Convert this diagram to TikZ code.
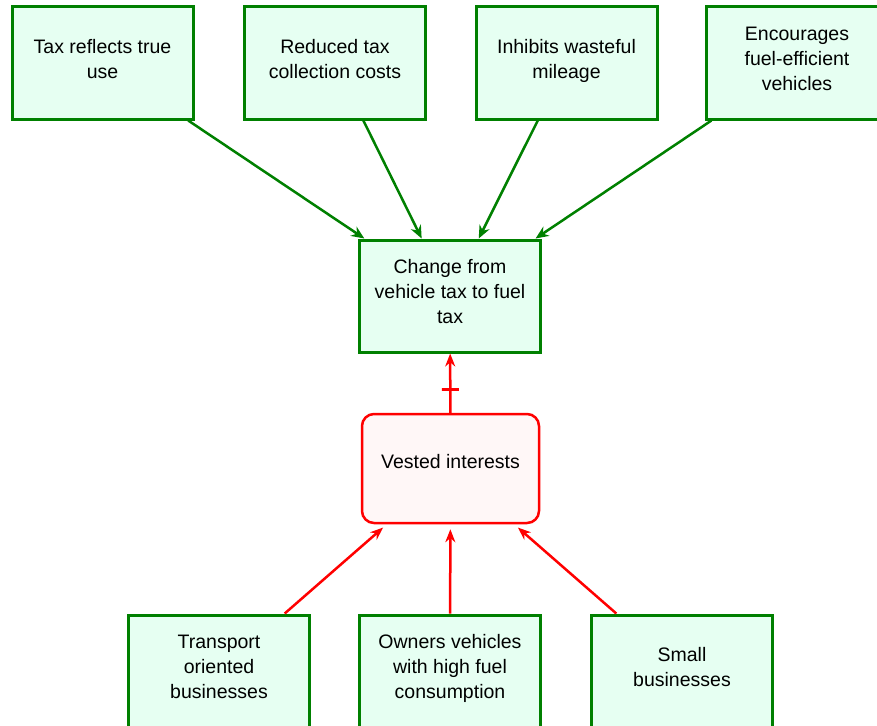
\documentclass[tikz,border=0pt]{standalone}
\usepackage{fontspec}
\setmainfont{Liberation Sans}
\usetikzlibrary{graphs, arrows.meta}
\definecolor{boxgreen}{RGB}{0,128,0}
\definecolor{mint}{RGB}{230,255,242}
\definecolor{blush}{RGB}{255,247,247}
\def\TrueUse{Tax reflects true\\use}
\def\Costs{Reduced tax\\collection costs}
\def\Mileage{Inhibits wasteful\\mileage}
\def\Efficient{Encourages\\fuel-efficient\\vehicles}
\def\Change{Change from\\vehicle tax to fuel\\tax}
\def\Vested{Vested interests}
\def\Transport{Transport\\oriented\\businesses}
\def\Owners{Owners vehicles\\with high fuel\\consumption}
\def\Small{Small\\businesses}

\begin{document}
\begin{tikzpicture}[x=1pt, y=-1pt,
    font=\fontsize{19.5}{25}\selectfont,
    factor/.style={draw=boxgreen, fill=mint, line width=3pt, align=center,
        minimum width=181pt, minimum height=112pt, inner sep=2pt, text depth=9pt},
    interest/.style={draw=red, fill=blush, line width=2.5pt, rounded corners=12pt,
        minimum width=177pt, minimum height=109pt, text depth=15pt},
    pro/.style={draw=boxgreen, line width=2.5pt, -{Stealth[length=13pt, width=11pt]}},
    con/.style={draw=red, line width=2.5pt, -{Stealth[length=13pt, width=10pt]}},
    tick/.style={draw=red, line width=2.5pt, minimum width=17pt, minimum height=0pt,
        inner sep=0pt}]
    \useasboundingbox (0,0) rectangle (877,725);

    % arguments for the change
    \node[factor] (use) at (102.5,63) {\TrueUse};
    \node[factor] (costs) at (335,63) {\Costs};
    \node[factor] (mileage) at (566.5,63) {\Mileage};
    \node[factor] (efficient) at (797,63) {\Efficient};

    \node[factor] (change) at (450,296) {\Change};
    \node[interest] (vested) at (450.5,468.5) {\Vested};

    % groups behind the vested interests
    \node[factor] (transport) at (219,671) {\Transport};
    \node[factor] (owners) at (450,671) {\Owners};
    \node[factor] (small) at (682,671) {\Small};

    \graph [use existing nodes] {
        {use, costs, mileage, efficient} ->[pro] change;
        vested ->[con, edge node={node[tick, pos=0.39] {}}] change;
        {transport, owners, small} ->[con, shorten >=5pt] vested;
    };
\end{tikzpicture}
\end{document}
